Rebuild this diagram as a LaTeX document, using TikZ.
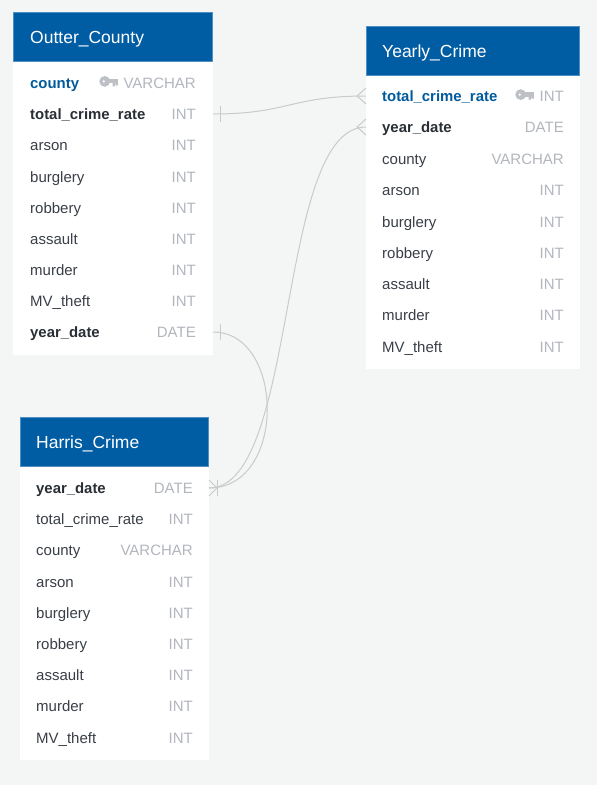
\documentclass[tikz,border=0pt]{standalone}
\usepackage{fontspec}
\setmainfont{Liberation Sans}
\definecolor{pagebg}{HTML}{F4F6F6}
\definecolor{headblue}{HTML}{005CA3}
\definecolor{headedge}{HTML}{4F8FC4}
\definecolor{keyblue}{HTML}{005A9C}
\definecolor{fieldtxt}{HTML}{3A3F47}
\definecolor{boldtxt}{HTML}{2A2F36}
\definecolor{typetxt}{HTML}{B2B6BD}
\definecolor{keygray}{HTML}{BDC0C5}
\definecolor{linkgray}{HTML}{C9CACA}
\tikzset{
  x=1pt,y=-1pt,
  bodybox/.style={draw=none,fill=white,anchor=north west,inner sep=0pt,outer sep=0pt},
  headbox/.style={draw=headedge,line width=.5pt,fill=headblue,anchor=north west,inner sep=0pt,outer sep=0pt},
  headtxt/.style={text=white,font=\fontsize{17.5}{20}\selectfont,anchor=base west,inner sep=0pt},
  rowbox/.style={draw=none,fill=none,inner sep=0pt,outer sep=0pt,minimum height=20pt},
  fieldname/.style={text=fieldtxt,font=\fontsize{15}{16}\selectfont,anchor=base west,inner sep=0pt},
  fieldbold/.style={text=boldtxt,font=\fontsize{14.9}{16}\selectfont\bfseries,anchor=base west,inner sep=0pt},
  fieldkey/.style={text=keyblue,font=\fontsize{14.9}{16}\selectfont\bfseries,anchor=base west,inner sep=0pt},
  fieldtype/.style={text=typetxt,font=\fontsize{15}{16}\selectfont,anchor=base east,inner sep=0pt},
  link/.style={draw=linkgray,line width=1pt},
  keyicon/.pic={
    \fill[keygray,even odd rule] (0,0) circle (5.4) (-1,0) circle (1.5);
    \fill[keygray] (3,-2.4) rectangle (13.5,2);
    \fill[keygray] (8,1.5) rectangle (10.5,5) (11,1.5) rectangle (13.5,4);
  }
}
% #1 row name, #2 left, #3 row centre y, #4 width, #5 text x, #6 type x, #7 style, #8 field, #9 type
\newcommand{\fieldrow}[9]{%
  \node[rowbox,minimum width=#4pt,anchor=west] (#1) at (#2,#3) {};
  \node[#7] (#1-name) at (#5,#3+5) {#8};
  \node[fieldtype] (#1-type) at (#6,#3+5) {#9};
}
\begin{document}
\begin{tikzpicture}
\useasboundingbox (0,0) rectangle (597,785);
\fill[pagebg] (0,0) rectangle (597,785);

% ---- Outter_County
\node[bodybox,minimum width=200pt,minimum height=343pt] (ocbody) at (13,12) {};
\node[headbox,minimum width=199.5pt,minimum height=49pt] (ochead) at (13,12) {};
\node[headtxt] (octitle) at (30,43) {Outter\_County};
\fieldrow{oc1}{13}{83}{200}{30}{196}{fieldkey}{county}{VARCHAR}
\fieldrow{oc2}{13}{114}{200}{30}{196}{fieldbold}{total\_crime\_rate}{INT}
\fieldrow{oc3}{13}{145}{200}{30}{196}{fieldname}{arson}{INT}
\fieldrow{oc4}{13}{177}{200}{30}{196}{fieldname}{burglery}{INT}
\fieldrow{oc5}{13}{208}{200}{30}{196}{fieldname}{robbery}{INT}
\fieldrow{oc6}{13}{239}{200}{30}{196}{fieldname}{assault}{INT}
\fieldrow{oc7}{13}{270}{200}{30}{196}{fieldname}{murder}{INT}
\fieldrow{oc8}{13}{301}{200}{30}{196}{fieldname}{MV\_theft}{INT}
\fieldrow{oc9}{13}{332}{200}{30}{196}{fieldbold}{year\_date}{DATE}
\pic at (104.7,81.4) {keyicon};

% ---- Yearly_Crime
\node[bodybox,minimum width=214pt,minimum height=343pt] (ycbody) at (366,26) {};
\node[headbox,minimum width=213.5pt,minimum height=49pt] (ychead) at (366,26) {};
\node[headtxt] (yctitle) at (382,57) {Yearly\_Crime};
\fieldrow{yc1}{366}{96}{214}{382}{564}{fieldkey}{total\_crime\_rate}{INT}
\fieldrow{yc2}{366}{127}{214}{382}{564}{fieldbold}{year\_date}{DATE}
\fieldrow{yc3}{366}{159}{214}{382}{564}{fieldname}{county}{VARCHAR}
\fieldrow{yc4}{366}{190}{214}{382}{564}{fieldname}{arson}{INT}
\fieldrow{yc5}{366}{222}{214}{382}{564}{fieldname}{burglery}{INT}
\fieldrow{yc6}{366}{253}{214}{382}{564}{fieldname}{robbery}{INT}
\fieldrow{yc7}{366}{284}{214}{382}{564}{fieldname}{assault}{INT}
\fieldrow{yc8}{366}{315}{214}{382}{564}{fieldname}{murder}{INT}
\fieldrow{yc9}{366}{347}{214}{382}{564}{fieldname}{MV\_theft}{INT}
\pic at (520.7,94.6) {keyicon};

% ---- Harris_Crime
\node[bodybox,minimum width=189pt,minimum height=343pt] (hcbody) at (20,417) {};
\node[headbox,minimum width=188.5pt,minimum height=49pt] (hchead) at (20,417) {};
\node[headtxt] (hctitle) at (36,448) {Harris\_Crime};
\fieldrow{hc1}{20}{488}{189}{36}{193}{fieldbold}{year\_date}{DATE}
\fieldrow{hc2}{20}{519}{189}{36}{193}{fieldname}{total\_crime\_rate}{INT}
\fieldrow{hc3}{20}{550}{189}{36}{193}{fieldname}{county}{VARCHAR}
\fieldrow{hc4}{20}{582}{189}{36}{193}{fieldname}{arson}{INT}
\fieldrow{hc5}{20}{613}{189}{36}{193}{fieldname}{burglery}{INT}
\fieldrow{hc6}{20}{644}{189}{36}{193}{fieldname}{robbery}{INT}
\fieldrow{hc7}{20}{675}{189}{36}{193}{fieldname}{assault}{INT}
\fieldrow{hc8}{20}{706}{189}{36}{193}{fieldname}{murder}{INT}
\fieldrow{hc9}{20}{738}{189}{36}{193}{fieldname}{MV\_theft}{INT}

% ---- connectors
\draw[link] (oc2.east) .. controls +(75,0) and +(-75,0) .. (yc1.west);
\draw[link] (oc9.east) .. controls +(72,0) and +(78,0) .. (hc1.east);
\draw[link] (yc2.west) .. controls +(-90,0) and +(90,0) .. (hc1.east);

% ---- end marks
\draw[link] (oc2.east) ++(7,-8) -- ++(0,16);
\draw[link] (oc9.east) ++(7,-8) -- ++(0,16);
\draw[link] (yc1.west) ++(0,-8) -- ++(-9,8) -- ++(9,8);
\draw[link] (yc2.west) ++(0,-8) -- ++(-9,8) -- ++(9,8);
\draw[link] (hc1.east) ++(0,-8) -- ++(8,8) -- ++(-8,8);
\draw[link] (hc1.east) ++(8,-8) -- ++(0,16);
\end{tikzpicture}
\end{document}
